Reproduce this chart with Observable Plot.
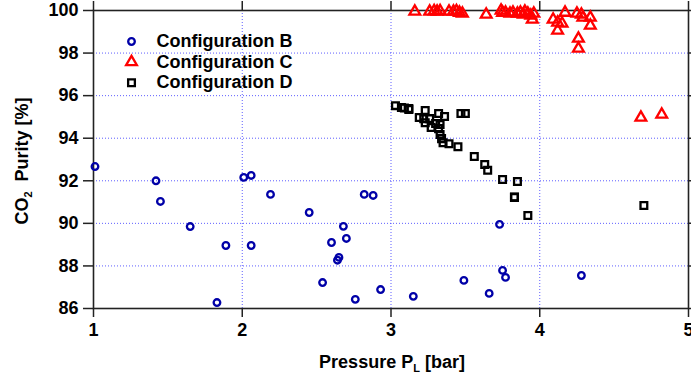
<!DOCTYPE html>
<html>
<head>
<meta charset="utf-8">
<script src="https://cdn.jsdelivr.net/npm/d3@7"></script>
<script src="https://cdn.jsdelivr.net/npm/@observablehq/plot@0.6"></script>
<style>
  html, body { margin: 0; padding: 0; background: #fff; }
  #chart svg { display: block; }
  #chart svg text { font-family: "Liberation Sans", Arial, sans-serif; font-weight: bold; }
</style>
</head>
<body>
<div id="chart"></div>
<script>
// Series names
const seriesNames = ["Configuration B", "Configuration C", "Configuration D"];

// Configuration B (blue circles)
const bX = [1.01, 1.42, 1.45, 1.65, 1.89, 1.83, 2.01, 2.06, 2.06, 2.19, 2.45, 2.54, 2.60, 2.64, 2.65, 2.68, 2.70, 2.76, 2.82, 2.88, 2.93, 3.15, 3.49, 3.66, 3.73, 3.75, 3.77, 4.28];
const bY = [92.67, 92.00, 91.03, 89.85, 88.96, 86.28, 92.16, 92.25, 88.96, 91.36, 90.51, 87.22, 89.10, 88.27, 88.40, 89.86, 89.29, 86.43, 91.36, 91.31, 86.89, 86.57, 87.32, 86.71, 89.95, 87.79, 87.46, 87.55];

// Configuration C (red triangles)
const cX = [3.16, 3.26, 3.29, 3.31, 3.33, 3.39, 3.42, 3.44, 3.46, 3.48, 3.64, 3.74, 3.75, 3.77, 3.80, 3.82, 3.85, 3.87, 3.89, 3.90, 3.92, 3.94, 3.96, 3.95, 4.09, 4.12, 4.15, 4.12, 4.17, 4.25, 4.28, 4.29, 4.34, 4.34, 4.26, 4.26, 4.68, 4.82];
const cY = [99.95, 99.95, 99.97, 99.95, 99.97, 99.95, 99.95, 99.97, 99.90, 99.86, 99.81, 100.0, 99.90, 99.90, 99.86, 99.90, 99.86, 99.90, 99.81, 99.95, 99.86, 99.76, 99.86, 99.58, 99.58, 99.44, 99.39, 99.06, 99.90, 99.86, 99.81, 99.67, 99.67, 99.29, 98.68, 98.21, 94.97, 95.11];

// Configuration D (black squares)
const dX = [3.03, 3.07, 3.09, 3.12, 3.12, 3.23, 3.32, 3.36, 3.19, 3.22, 3.26, 3.23, 3.27, 3.30, 3.33, 3.32, 3.33, 3.34, 3.35, 3.39, 3.45, 3.47, 3.50, 3.56, 3.63, 3.65, 3.75, 3.85, 3.83, 3.83, 3.92, 4.70];
const dY = [95.53, 95.44, 95.42, 95.39, 95.35, 95.30, 95.16, 95.02, 94.97, 94.92, 94.92, 94.73, 94.50, 94.69, 94.64, 94.45, 94.17, 93.98, 93.79, 93.74, 93.60, 95.16, 95.16, 93.14, 92.77, 92.49, 92.06, 91.97, 91.22, 91.24, 90.37, 90.84];

// Axis ticks
const xTicks = [1, 2, 3, 4, 5];
const yTicks = [86, 88, 90, 92, 94, 96, 98, 100];
const xGrid = [2, 3, 4];
const yGrid = [88, 90, 92, 94, 96, 98];

const toRows = (xs, ys) => xs.map((x, i) => ({x, y: ys[i]}));
const B = toRows(bX, bY), C = toRows(cX, cY), D = toRows(dX, dY);

const styles = [
  {symbol: "circle", stroke: "#0000a8", r: 3.3},
  {symbol: "triangle", stroke: "#ff0000", r: 4},
  {symbol: "square", stroke: "#000000", r: 3.8}
];

const legendMarks = seriesNames.flatMap((name, i) => [
  Plot.dot([name], {frameAnchor: "top-left", dx: 38, dy: 31 + 20.6 * i,
    symbol: styles[i].symbol, stroke: styles[i].stroke, r: styles[i].r, strokeWidth: 2.3, fill: "none"}),
  Plot.text([name], {frameAnchor: "top-left", dx: 63, dy: 31 + 20.6 * i, text: d => d,
    textAnchor: "start", lineAnchor: "middle", fontSize: 18, fontWeight: "bold", fill: "black"})
]);

const fmt = d3.format("d");

const chart = Plot.plot({
  width: 691,
  height: 377,
  marginLeft: 93,
  marginRight: 3,
  marginTop: 10,
  marginBottom: 69,
  style: {fontFamily: "'Liberation Sans', Arial, sans-serif", fontWeight: "bold", fontSize: "17px", background: "white", overflow: "visible"},
  x: {domain: [1, 5]},
  y: {domain: [86, 100]},
  marks: [
    Plot.gridX(xGrid, {stroke: "#4d4dff", strokeOpacity: 0.9, strokeDasharray: "1,2", strokeWidth: 1}),
    Plot.gridY(yGrid, {stroke: "#4d4dff", strokeOpacity: 0.9, strokeDasharray: "1,2", strokeWidth: 1}),
    Plot.axisX(xTicks, {anchor: "bottom", tickSize: 9, tickPadding: 6, tickFormat: fmt, label: null, fontSize: 18, fontWeight: "bold", fill: "black", stroke: "#222", strokeWidth: 1.5}),
    Plot.axisX(xTicks, {anchor: "top", tickSize: 10, tickFormat: () => "", label: null, stroke: "#222", strokeWidth: 1.5}),
    Plot.axisY(yTicks, {anchor: "left", tickSize: 10, tickPadding: 5, tickFormat: fmt, label: null, fontSize: 18, fontWeight: "bold", fill: "black", stroke: "#222", strokeWidth: 1.5}),
    Plot.axisY(yTicks, {anchor: "right", tickSize: 4, tickFormat: () => "", label: null, stroke: "#222", strokeWidth: 1.5}),
    Plot.frame({stroke: "#222", strokeWidth: 1.6}),
    Plot.dot(B, {x: "x", y: "y", symbol: styles[0].symbol, stroke: styles[0].stroke, r: styles[0].r, strokeWidth: 2.3, fill: "none"}),
    Plot.dot(C, {x: "x", y: "y", symbol: styles[1].symbol, stroke: styles[1].stroke, r: styles[1].r, strokeWidth: 2.3, fill: "none"}),
    Plot.dot(D, {x: "x", y: "y", symbol: styles[2].symbol, stroke: styles[2].stroke, r: styles[2].r, strokeWidth: 2.3, fill: "none"}),
    ...legendMarks
  ]
});

// Axis titles with true subscripts
const svg = d3.select(chart);
const xt = svg.append("text")
  .attr("x", 392).attr("y", 368)
  .attr("text-anchor", "middle")
  .attr("font-size", 18).attr("font-weight", "bold").attr("fill", "black");
xt.append("tspan").text("Pressure P");
xt.append("tspan").attr("font-size", 11).attr("dy", 4).text("L");
xt.append("tspan").attr("dy", -4).text(" [bar]");

const yt = svg.append("text")
  .attr("transform", "translate(28,161) rotate(-90)")
  .attr("text-anchor", "middle")
  .attr("font-size", 18).attr("font-weight", "bold").attr("fill", "black");
yt.append("tspan").text("CO");
yt.append("tspan").attr("font-size", 11).attr("dy", 4).text("2");
yt.append("tspan").attr("dy", -4).text("  Purity [%]");

document.getElementById("chart").appendChild(chart);
</script>
</body>
</html>
